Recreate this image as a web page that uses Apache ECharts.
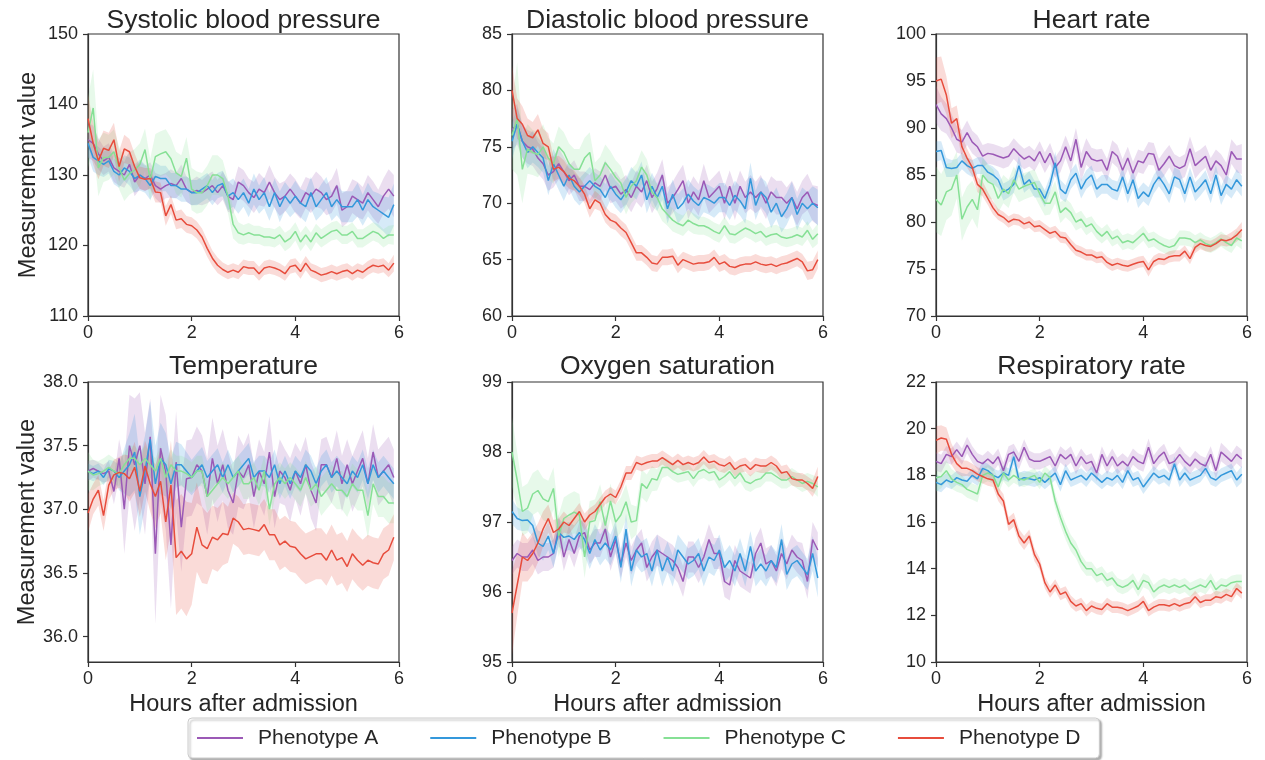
<!DOCTYPE html>
<html><head><meta charset="utf-8">
<script src="https://cdn.jsdelivr.net/npm/echarts@6/dist/echarts.min.js"></script>
<style>html,body{margin:0;padding:0;background:#fff}#c{width:1265px;height:760px}</style>
</head><body><div id="c"></div>
<script>
const hours = [0,0.1,0.2,0.3,0.4,0.5,0.6,0.7,0.8,0.9,1,1.1,1.2,1.3,1.4,1.5,1.6,1.7,1.8,1.9,2,2.1,2.2,2.3,2.4,2.5,2.6,2.7,2.8,2.9,3,3.1,3.2,3.3,3.4,3.5,3.6,3.7,3.8,3.9,4,4.1,4.2,4.3,4.4,4.5,4.6,4.7,4.8,4.9,5,5.1,5.2,5.3,5.4,5.5,5.6,5.7,5.8,5.9];
const phenotypes = ['Phenotype A','Phenotype B','Phenotype C','Phenotype D'];
const colors = ['#9b59b6','#3498db','#86e095','#e74c3c'];
const titles = ['Systolic blood pressure','Diastolic blood pressure','Heart rate','Temperature','Oxygen saturation','Respiratory rate'];
const xTicks = [0,2,4,6];
const sbpTicks = [110,120,130,140,150];
const dbpTicks = [60,65,70,75,80,85];
const hrTicks = [70,75,80,85,90,95,100];
const tempTicks = [36.0,36.5,37.0,37.5,38.0];
const o2Ticks = [95,96,97,98,99];
const rrTicks = [10,12,14,16,18,20,22];

// Systolic blood pressure
const sbpA = [135,134.5,133,132,132.5,131,130.5,130,131.5,129, 130,129.5,130,128.5,128,128.5,128.8,128.5,129.5,128, 127.5,127.8,127.5,128,128.5,127.5,128.5,127,126.5,129, 128.5,127.5,126.8,128,127.5,129,127.5,126.5,127,128, 127,126,127.5,127,128,127.5,126.5,127,128.5,125, 125.5,127,126.5,126,127.5,126.5,125.5,127,128,127];
const sbpB = [134.5,132.5,132,131.5,132,130.5,130,131,130.5,129.5, 130,129.5,128.5,129.8,129.5,129.5,128.5,128.5,128,128, 127.5,127.5,128,128.5,127.5,128.5,128.8,127,127.5,126.5, 127.5,126,128,126.5,127.5,125.5,127.5,125.5,127,126, 127,126,125.5,127.5,125.5,126.5,127.5,125.5,126.5,125.5, 125.5,125.5,126.5,125,126.5,125.5,125,124.5,124,125.8];
const sbpC = [136,139.5,131,132.5,132.5,133.3,131,129.3,130.2,130.7, 131.5,133.6,129.3,132.6,133,133.3,132.3,130.3,129.8,132.4, 128,127.5,127.5,128.5,130,130,129.5,127,123,121.8, 121.5,121.8,121.5,121.5,121.2,121.2,121,121.5,120.5,121, 122,120.5,121.5,120.5,121.8,121,121.5,122,122.2,121.5, 121.5,122,121,121,121.5,122,121.7,121,121.5,121.5];
const sbpD = [138,134.5,132,133.8,133.5,135,131.2,133.7,133.3,131.2, 129.6,129.4,129.5,127.6,127.5,124.2,125.8,123.6,123.8,123, 122.8,122.2,121.2,119.6,118.2,117.2,116.6,116.2,116.5,116.2, 117,116.8,116.8,116,116.8,117,116.8,116.5,116,117, 117.2,116.3,117.5,116.5,116.2,115.8,116,116.3,116,116.3, 116.5,116,116.5,116.2,116.8,117.2,117,117.2,116.5,117.5];
const sbpBandA = [2.5,2.5,2.2,2,2,2,2,1.8,2,2, 2,1.8,1.8,1.8,2,1.8,2,1.8,2,1.8, 1.8,2,1.8,2,2,1.8,2,2.2,2,2.2, 2.2,2,2.2,2.3,2,2.4,2.2,2.3,2.2,2.2, 2.4,2.2,2.2,2.4,2.5,2.3,2.2,2.4,2.5,2.4, 2.3,2.4,2.5,2.3,2.5,2.6,2.4,2.5,2.8,3];
const sbpBandB = [1.8,2,2,1.8,1.8,1.8,1.8,1.8,2,2, 2.2,2,2,2,1.8,1.8,1.8,1.8,1.8,1.8, 1.8,1.8,1.8,1.8,1.8,1.8,1.8,2,2,2, 2,2,2.2,2,2.2,2,2,2.2,2,2, 2.2,2,2.2,2.2,2,2.2,2.2,2,2.2,2.2, 2.2,2.2,2.4,2.2,2.4,2.2,2.4,2.5,2.8,3];
const sbpBandC = [5,5.5,4,3.5,3.2,3.2,3,3,3,3, 3,3,3,3.2,3.2,3.2,3,3,3,3, 3,3,2.8,2.8,2.8,2.8,2.6,2.4,2,1.5, 1.4,1.4,1.3,1.3,1.3,1.3,1.3,1.3,1.3,1.3, 1.3,1.3,1.3,1.3,1.3,1.3,1.3,1.3,1.3,1.3, 1.3,1.3,1.3,1.3,1.3,1.3,1.3,1.3,1.3,1.4];
const sbpBandD = [3.5,3,2.6,2.5,2.5,2.4,2.2,2,1.8,1.8, 1.6,1.6,1.5,1.5,1.4,1.4,1.3,1.3,1.3,1.2, 1.2,1.2,1.2,1.2,1.1,1.1,1,1,1,1, 1,1,1,1,1,1,1,1,1,1, 1,1,1,1,1,1,1,1,1,1, 1,1,1,1,1,1,1,1,1,1.2];

// Diastolic blood pressure
const dbpA = [76.5,77,75.5,75,74.8,74,73.5,72.5,72.8,73.5, 72.8,72,72.5,71.5,71.5,71.2,71.8,71.5,72.5,71.3, 71.5,70.8,71.2,70.5,71.5,71,72,70.5,71.3,72.5, 70,70.5,71.2,72,70,71,70.3,72,70.5,71, 71.5,70,71.5,70,71.5,70.5,71,70.5,71,70, 71,70.5,70.5,70,70.5,69.5,70.5,71,70,69.8];
const dbpB = [75.5,77,75.5,74.5,75,74.5,74,72,73.5,72.5, 71.5,72.5,71.5,71,71.5,72,71.5,71.2,70.5,71.5, 70.8,70.3,71,72,71.5,72.5,70.3,71.5,70.5,71.5, 69.5,70.8,69.5,70,70.8,70.2,69.8,70.5,70.3,70, 70.5,70.5,69.8,70.7,70.2,69.5,72.2,69.8,71,70.5, 69.2,70,68.8,69.5,70.5,69,70,69.5,70,69.6];
const dbpC = [76,77.5,73,74.8,74.5,74.3,75,74,73.5,75, 74.5,73.5,73,73,74,74.5,72,72.5,73.6,73, 72.3,71.8,70.5,71.5,72,73.2,72.5,71,70.5,69.5, 69,68.5,68.2,68,68.5,68.2,68,68,67.8,67.5, 67.3,68,67.3,67.2,67.5,67.8,67.6,67.3,67.5,67, 67.2,67.3,67,66.9,67,67.2,67,67.6,66.8,67.3];
const dbpD = [80,77.5,77,76,75.8,76.5,75.3,75,73,73.2, 72.8,72.2,72,71.5,70.8,69.5,70.3,70,69,68.5, 68.3,67.8,67.4,66.5,65.6,65.6,65.2,64.7,64.6,65.2, 65.2,65.3,64.5,65,64.8,64.6,64.7,64.7,64.8,65.2, 64.6,64.8,64.4,64.3,64.5,64.6,64.6,64.8,64.6,64.5, 64.6,64.4,64.6,64.7,64.9,65.1,64.8,64,64.1,65];
const dbpBandA = [1.8,1.8,1.5,1.5,1.5,1.4,1.4,1.4,1.4,1.4, 1.3,1.3,1.3,1.3,1.3,1.3,1.3,1.3,1.3,1.3, 1.3,1.3,1.3,1.3,1.4,1.4,1.4,1.4,1.4,1.4, 1.4,1.4,1.5,1.4,1.4,1.4,1.4,1.5,1.4,1.4, 1.4,1.5,1.4,1.5,1.4,1.4,1.5,1.4,1.5,1.4, 1.4,1.5,1.5,1.4,1.5,1.5,1.5,1.6,1.6,1.7];
const dbpBandB = [1.6,1.5,1.4,1.4,1.4,1.3,1.3,1.3,1.3,1.3, 1.3,1.2,1.2,1.2,1.2,1.2,1.2,1.2,1.2,1.2, 1.2,1.2,1.2,1.2,1.2,1.2,1.2,1.2,1.2,1.2, 1.3,1.3,1.3,1.3,1.3,1.3,1.3,1.3,1.3,1.3, 1.3,1.3,1.3,1.3,1.3,1.3,1.4,1.3,1.3,1.4, 1.4,1.4,1.4,1.4,1.4,1.4,1.4,1.5,1.5,1.6];
const dbpBandC = [3,5,3,2.2,2,2,2,1.8,1.8,1.8, 1.8,1.8,1.8,1.8,1.8,1.8,1.6,1.6,1.6,1.6, 1.5,1.5,1.5,1.5,1.5,1.5,1.4,1.3,1.2,1.1, 1,1,0.9,0.9,0.9,0.9,0.8,0.8,0.8,0.8, 0.8,0.8,0.8,0.8,0.8,0.8,0.8,0.8,0.8,0.8, 0.8,0.8,0.8,0.8,0.8,0.8,0.8,0.8,0.8,0.9];
const dbpBandD = [2.2,1.8,1.6,1.5,1.4,1.4,1.3,1.2,1.1,1, 1,0.9,0.9,0.8,0.8,0.8,0.8,0.7,0.7,0.7, 0.7,0.7,0.7,0.7,0.7,0.7,0.7,0.7,0.7,0.7, 0.7,0.7,0.7,0.7,0.7,0.7,0.7,0.7,0.7,0.7, 0.7,0.7,0.7,0.7,0.7,0.7,0.7,0.7,0.7,0.7, 0.7,0.7,0.7,0.7,0.7,0.7,0.7,0.8,0.8,0.8];

// Heart rate
const hrA = [92.5,91.5,91,90,88.8,88.5,89.5,88.5,88,87, 87.3,87.2,87,86.8,87,87.8,87.2,86.7,87,86.5, 87.5,86.3,87.3,85.8,86.5,88,86.5,88.8,85.8,87.5, 86.7,86.5,86.6,85.5,87.5,87,85.5,86.8,85.2,86.5, 86.3,87.3,87.2,85.5,86.2,87,86,85.7,86,87.8, 86,86.5,87,85.5,86.5,86,85,87.5,86.7,86.7];
const hrB = [87.5,87.6,85.8,85.7,85.8,86.5,86,85.7,86,86, 85.3,85,84.5,83.2,83.5,84,86,84,84.5,83.5, 83.5,82.5,84,86.3,83.5,83,84.5,85.2,83.5,84.5, 85,83.5,84,84,83.5,83.3,84.8,83,84.5,82.5, 83.2,82.7,84,84.8,84,83,84.8,84.5,83,84.8, 83.2,83.8,84.5,83,85,82.8,84,83.5,84.5,83.8];
const hrC = [82.4,81.8,83.2,83.5,85,80.3,81.6,82.4,81.3,85, 84.3,84,82.5,83.5,83,84.5,83.5,83.8,84,84.2, 83,82,82,83.2,81,81.5,81,80,80.3,79.5, 79.8,79,78.5,79,78.2,78.5,77.8,78,77.8,78.3, 78.8,78,78.2,77.8,77.5,77.3,77.5,78.3,78.3,78.2, 77.8,78.1,77.7,77.5,77.8,78.2,77.8,77.5,78.3,78];
const hrD = [95,95.2,93.5,90.5,91,88,86.8,85.8,84,83.5, 82.5,81.5,80.8,80.5,80,80.3,80.2,79.8,80,79.5, 79.6,79.2,78.8,79,78.4,78.3,77.6,77,76.8,76.5, 76.5,76.2,76.3,75.7,75.4,75.6,75.4,75.3,75.5,75.7, 75.8,74.9,75.8,76.1,76,76.3,76.4,76.4,76.9,76.1, 77.3,77.7,77.5,77.4,77.7,78.1,78,78.2,78.6,79.2];
const hrBandA = [2,1.8,1.6,1.5,1.4,1.3,1.3,1.2,1.2,1.2, 1.1,1.1,1.1,1.1,1.1,1.1,1.1,1.1,1.1,1.1, 1.1,1.1,1.1,1.1,1.2,1.2,1.3,1.2,1.5,1.4, 1.2,1.2,1.2,1.2,1.2,1.2,1.2,1.2,1.2,1.2, 1.2,1.2,1.2,1.2,1.3,1.2,1.2,1.2,1.2,1.3, 1.4,1.2,1.2,1.3,1.2,1.2,1.3,1.3,1.4,1.6];
const hrBandB = [1.1,1,1,0.9,0.9,0.9,0.9,0.9,0.9,0.9, 0.9,0.9,0.9,0.9,0.9,0.9,1,0.9,0.9,0.9, 0.9,0.9,0.9,1.2,1,0.9,1,1,1,1, 1,1,1,1,1,1,1,1,1,1, 1,1,1,1,1,1,1,1,1,1, 1,1,1,1,1,1,1,1,1.1,1.1];
const hrBandC = [3.5,3.3,3,2.8,2.5,2.3,2.2,2,2,1.8, 1.8,1.6,1.5,1.5,1.5,1.4,1.4,1.4,1.4,1.4, 1.3,1.3,1.2,1.2,1.1,1,1,0.9,0.9,0.9, 0.8,0.8,0.8,0.8,0.8,0.8,0.8,0.8,0.8,0.8, 0.8,0.8,0.8,0.8,0.8,0.8,0.8,0.8,0.8,0.8, 0.8,0.8,0.8,0.8,0.8,0.8,0.8,0.8,0.8,0.9];
const hrBandD = [2.5,2.4,2,1.6,1.4,1.2,1,0.9,0.8,0.8, 0.7,0.7,0.6,0.6,0.6,0.6,0.6,0.6,0.6,0.6, 0.6,0.6,0.6,0.6,0.6,0.6,0.6,0.6,0.6,0.6, 0.6,0.6,0.6,0.6,0.6,0.6,0.6,0.6,0.6,0.6, 0.6,0.7,0.6,0.6,0.6,0.6,0.6,0.6,0.6,0.6, 0.6,0.6,0.6,0.6,0.6,0.6,0.6,0.7,0.7,0.8];

// Temperature
const tempA = [37.3,37.32,37.3,37.28,37.3,37.14,37.4,37,37.5,37.35, 37.5,37.2,37.57,36.65,37.48,37.29,36.72,37.37,36.86,37.24, 37.25,37.35,37.3,37.1,37.4,37.2,37.35,37.15,37.05,37.3, 37.25,37.35,37.1,37.3,37.2,37.45,37.1,37.3,37.25,37.15, 37.3,37.2,37.35,37.15,37.05,37.35,37.35,37.25,37.4,37.2, 37.35,37.2,37.3,37.4,37.2,37.45,37.25,37.3,37.35,37.25];
const tempB = [37.3,37.28,37.3,37.25,37.32,37.3,37.25,37.3,37.35,37.45, 37.1,37.3,37.55,37.2,37.4,37.35,37.2,37.35,37.35,37.3, 37.25,37.3,37.35,37.25,37.3,37.35,37.25,37.35,37.25,37.3, 37.35,37.4,37.25,37.3,37.3,37.25,37.35,37.2,37.3,37.2, 37.3,37.25,37.35,37.3,37.2,37.3,37.35,37.25,37.3,37.25, 37.2,37.3,37.25,37.35,37.2,37.35,37.25,37.3,37.25,37.2];
const tempC = [37.3,37.27,37.28,37.3,37.33,37.3,37.28,37.35,37.4,37.4, 37.35,37.4,37.35,37.3,37.4,37.25,37.35,37.3,37.3,37.28, 37.25,37.3,37.3,37.1,37.15,37.2,37.25,37.2,37.25,37.3, 37.2,37.2,37.25,37.15,37.3,37,37.2,37.25,37.2,37.25, 37.2,37.15,37.25,37.15,37.2,37.1,37.15,37.2,37.15,37.15, 37.1,37.2,37.15,37.15,36.95,37.2,37.1,37.1,37.05,37.05];
const tempD = [36.97,37.08,37.15,36.95,37.19,37.27,37.29,37.28,37.24,37.33, 37.14,37.34,37.2,37.1,37.22,36.9,37.19,36.62,36.67,36.61, 36.65,36.86,36.72,36.69,36.78,36.76,36.81,36.8,36.93,36.9, 36.84,36.85,36.84,36.83,36.88,36.8,36.8,36.72,36.75,36.71, 36.7,36.65,36.61,36.63,36.65,36.65,36.6,36.68,36.6,36.62, 36.55,36.65,36.6,36.56,36.6,36.58,36.57,36.65,36.68,36.78];
const tempBandA = [0.08,0.07,0.07,0.07,0.08,0.1,0.15,0.35,0.4,0.52, 0.42,0.4,0.3,0.55,0.42,0.45,0.5,0.4,0.35,0.3, 0.3,0.3,0.28,0.3,0.32,0.3,0.28,0.3,0.25,0.28, 0.25,0.25,0.25,0.25,0.25,0.28,0.25,0.25,0.22,0.25, 0.22,0.25,0.22,0.22,0.22,0.2,0.22,0.2,0.22,0.22, 0.2,0.22,0.22,0.22,0.2,0.22,0.22,0.22,0.22,0.22];
const tempBandB = [0.06,0.06,0.06,0.06,0.07,0.08,0.1,0.18,0.25,0.3, 0.3,0.28,0.3,0.3,0.28,0.25,0.2,0.18,0.16,0.15, 0.14,0.14,0.14,0.13,0.13,0.13,0.12,0.12,0.12,0.12, 0.12,0.12,0.12,0.12,0.12,0.12,0.12,0.12,0.12,0.12, 0.12,0.12,0.12,0.12,0.12,0.12,0.12,0.12,0.12,0.12, 0.12,0.12,0.12,0.12,0.12,0.12,0.12,0.12,0.12,0.12];
const tempBandC = [0.15,0.12,0.1,0.1,0.1,0.1,0.1,0.1,0.1,0.1, 0.1,0.1,0.1,0.1,0.1,0.12,0.12,0.12,0.12,0.12, 0.12,0.12,0.12,0.12,0.12,0.12,0.12,0.12,0.12,0.12, 0.12,0.12,0.12,0.12,0.12,0.13,0.12,0.12,0.12,0.12, 0.13,0.13,0.13,0.13,0.14,0.15,0.15,0.15,0.15,0.15, 0.16,0.16,0.16,0.16,0.18,0.16,0.16,0.16,0.16,0.16];
const tempBandD = [0.15,0.12,0.12,0.12,0.12,0.12,0.12,0.15,0.18,0.2, 0.2,0.2,0.22,0.25,0.25,0.3,0.35,0.45,0.45,0.45, 0.4,0.35,0.3,0.28,0.25,0.25,0.25,0.22,0.2,0.2, 0.2,0.2,0.2,0.2,0.2,0.2,0.2,0.2,0.2,0.2, 0.2,0.2,0.2,0.2,0.2,0.2,0.2,0.2,0.2,0.2, 0.2,0.2,0.2,0.2,0.2,0.2,0.2,0.2,0.2,0.18];

// Oxygen saturation
const o2A = [96.45,96.55,96.5,96.5,96.6,96.45,96.5,96.5,96.55,96.9, 96.5,96.75,96.55,96.8,96.85,96.6,96.7,96.7,96.9,96.5, 96.75,96.4,96.7,96.45,96.6,96.7,96.35,96.5,96.6,96.55, 96.5,96.45,96.35,96.15,96.5,96.5,96.35,96.5,96.75,96.55, 96.55,96.15,96.1,96.45,96.3,96.25,96.2,96.55,96.7,96.4, 96.45,96.3,96.55,96.4,96.6,96.5,96.45,96.15,96.75,96.6];
const o2B = [97.15,97.05,97.02,97.03,96.95,96.7,96.65,96.8,96.55,96.85, 96.78,96.8,96.75,96.85,96.75,96.55,96.75,96.6,96.7,96.6, 96.8,96.35,96.9,96.3,96.6,96.5,96.55,96.3,96.6,96.3, 96.5,96.3,96.6,96.5,96.4,96.45,96.55,96.3,96.5,96.45, 96.6,96.35,96.45,96.3,96.55,96.3,96.65,96.3,96.4,96.3, 96.45,96.35,96.75,96.25,96.4,96.45,96.35,96.25,96.55,96.2];
const o2C = [98,97.6,97.15,97.2,97.4,97.45,97.33,97.29,97.48,96.8, 97.05,97.1,97.14,97.1,96.5,97,97.02,97.29,96.95,97.3, 97,97.1,97.29,97,97.02,97.55,97.48,97.62,97.6,97.78, 97.78,97.72,97.68,97.7,97.72,97.62,97.72,97.75,97.7,97.72, 97.6,97.65,97.72,97.62,97.7,97.58,97.55,97.6,97.62,97.7, 97.7,97.65,97.6,97.6,97.65,97.6,97.55,97.58,97.55,97.5];
const o2D = [95.7,96.1,96.5,96.45,96.55,96.7,96.9,97.05,96.85,96.9, 97,96.95,97.05,97.15,97,97.1,97.15,97.25,97.35,97.4, 97.35,97.5,97.7,97.7,97.85,97.82,97.85,97.87,97.87,97.92, 97.87,97.82,97.88,97.82,97.85,97.82,97.85,97.93,97.85,97.87, 97.82,97.8,97.85,97.75,97.8,97.82,97.75,97.82,97.8,97.8, 97.85,97.8,97.7,97.72,97.62,97.6,97.6,97.55,97.48,97.65];
const o2BandA = [0.2,0.2,0.2,0.2,0.2,0.2,0.2,0.2,0.2,0.2, 0.2,0.2,0.2,0.2,0.2,0.2,0.2,0.2,0.2,0.2, 0.2,0.2,0.2,0.2,0.2,0.2,0.2,0.22,0.22,0.22, 0.22,0.22,0.22,0.22,0.22,0.22,0.22,0.22,0.22,0.22, 0.22,0.22,0.22,0.22,0.22,0.22,0.22,0.22,0.22,0.22, 0.22,0.22,0.22,0.22,0.22,0.22,0.25,0.25,0.25,0.25];
const o2BandB = [0.18,0.16,0.15,0.15,0.16,0.18,0.2,0.2,0.2,0.2, 0.2,0.2,0.2,0.2,0.22,0.22,0.22,0.22,0.22,0.22, 0.22,0.22,0.22,0.22,0.22,0.22,0.22,0.22,0.22,0.22, 0.22,0.22,0.22,0.22,0.22,0.22,0.22,0.22,0.22,0.22, 0.22,0.22,0.22,0.22,0.22,0.22,0.22,0.22,0.22,0.22, 0.22,0.22,0.22,0.22,0.22,0.22,0.22,0.22,0.25,0.28];
const o2BandC = [0.5,0.4,0.35,0.35,0.3,0.3,0.3,0.3,0.3,0.3, 0.3,0.3,0.3,0.3,0.3,0.3,0.3,0.25,0.25,0.25, 0.25,0.25,0.25,0.25,0.2,0.2,0.2,0.18,0.15,0.15, 0.12,0.12,0.12,0.12,0.12,0.12,0.12,0.12,0.12,0.12, 0.12,0.12,0.12,0.12,0.12,0.12,0.12,0.12,0.12,0.12, 0.12,0.12,0.12,0.12,0.12,0.12,0.12,0.12,0.12,0.14];
const o2BandD = [0.6,0.45,0.35,0.3,0.3,0.28,0.25,0.2,0.18,0.15, 0.15,0.12,0.12,0.12,0.12,0.1,0.1,0.1,0.1,0.1, 0.1,0.1,0.1,0.1,0.1,0.1,0.1,0.1,0.1,0.1, 0.1,0.1,0.1,0.1,0.1,0.1,0.1,0.1,0.1,0.1, 0.1,0.1,0.1,0.1,0.1,0.1,0.1,0.1,0.1,0.1, 0.1,0.1,0.1,0.1,0.1,0.1,0.1,0.1,0.12,0.14];

// Respiratory rate
const rrA = [18.6,18.5,18.9,18.8,19.1,18.8,19.3,18.9,18.6,18.5, 18.7,18.5,18.8,18.2,18.9,19,18.6,19.2,18.7,18.6, 18.6,18.7,18.8,18.4,18.9,18.7,18.9,18.4,18.8,18.5, 18.6,18.1,18.9,18.4,18.8,18.4,18.6,18.4,18.8,18.6, 18.5,19.2,18.5,18.8,19,18.5,18.6,18.9,18.6,18.4, 18.7,18.5,18.4,18.9,18.2,19,18.8,18.6,18.9,18.7];
const rrB = [17.7,17.6,17.8,17.7,17.9,17.8,17.75,18,17.85,18.3, 18.2,18,17.9,18.1,18,18.8,17.8,17.9,17.85,17.8, 17.9,17.7,17.9,18.1,17.6,18.2,17.8,17.9,18,17.8, 18.1,17.9,17.7,17.9,17.8,18,17.7,18.2,17.8,17.9, 17.5,17.8,18.1,17.9,18,17.8,18.5,17.8,18.1,17.8, 17.9,18,18.3,17.9,17.8,18,18.1,18.2,17.8,18.05];
const rrC = [17.9,17.95,18.2,17.85,17.7,17.6,17.4,17.3,17.2,18, 18.1,18,17.5,18.1,17.8,18,17.85,17.8,17.9,18, 17.7,18.1,17.9,16.9,16.2,15.6,15.1,14.8,14.3,14, 14,13.7,13.8,13.5,13.6,13.3,13.2,13.3,13.5,13.1, 13.5,13.4,13,13.2,13.3,13.2,13.3,13.2,13.3,13.1, 13.2,13.3,13.2,13.5,13.1,13.3,13.25,13.4,13.45,13.45];
const rrD = [19.5,19.6,19.55,18.9,18.5,18.3,18.3,18.2,18.05,17.95, 17.85,17.8,17.2,16.9,15.9,16.1,15.4,15.1,15.4,14.6, 14.2,13.4,13,13.3,12.9,13,12.6,12.4,12.5,12.2, 12.4,12.3,12.25,12.5,12.35,12.35,12.3,12.2,12.3,12.4, 12.6,12.2,12.35,12.45,12.45,12.4,12.5,12.4,12.5,12.55, 12.8,12.55,12.65,12.65,12.8,12.75,12.9,12.8,13.15,12.95];
const rrBandA = [0.4,0.38,0.36,0.35,0.35,0.35,0.35,0.35,0.35,0.35, 0.35,0.35,0.35,0.35,0.35,0.35,0.35,0.35,0.35,0.35, 0.35,0.35,0.35,0.35,0.35,0.35,0.35,0.35,0.35,0.35, 0.35,0.35,0.35,0.35,0.35,0.35,0.35,0.35,0.35,0.35, 0.35,0.38,0.35,0.35,0.35,0.35,0.35,0.35,0.35,0.35, 0.35,0.35,0.35,0.35,0.35,0.4,0.38,0.35,0.38,0.4];
const rrBandB = [0.35,0.32,0.3,0.3,0.3,0.3,0.3,0.3,0.3,0.3, 0.3,0.3,0.3,0.3,0.3,0.35,0.3,0.3,0.3,0.3, 0.3,0.3,0.3,0.3,0.3,0.3,0.3,0.3,0.3,0.3, 0.3,0.3,0.3,0.3,0.3,0.3,0.3,0.3,0.3,0.3, 0.3,0.3,0.3,0.3,0.3,0.3,0.32,0.3,0.3,0.3, 0.3,0.3,0.3,0.3,0.3,0.3,0.3,0.3,0.32,0.35];
const rrBandC = [0.6,0.5,0.45,0.42,0.4,0.38,0.36,0.35,0.35,0.35, 0.35,0.35,0.35,0.35,0.32,0.32,0.3,0.3,0.3,0.3, 0.3,0.3,0.3,0.32,0.35,0.35,0.35,0.35,0.32,0.3, 0.3,0.3,0.3,0.3,0.3,0.3,0.3,0.3,0.3,0.3, 0.3,0.3,0.3,0.3,0.3,0.3,0.3,0.3,0.3,0.3, 0.3,0.3,0.3,0.3,0.3,0.3,0.3,0.3,0.3,0.3];
const rrBandD = [0.6,0.55,0.5,0.45,0.4,0.35,0.32,0.3,0.3,0.3, 0.3,0.3,0.3,0.3,0.3,0.3,0.3,0.3,0.28,0.28, 0.25,0.25,0.25,0.25,0.25,0.25,0.25,0.25,0.25,0.25, 0.25,0.25,0.25,0.25,0.25,0.25,0.25,0.25,0.25,0.25, 0.25,0.25,0.25,0.25,0.25,0.25,0.25,0.25,0.25,0.25, 0.25,0.25,0.25,0.25,0.25,0.25,0.25,0.25,0.25,0.25];

const panels = [
  {min:110, max:150, interval:10, ticks:sbpTicks, dec:0, lines:[sbpA,sbpB,sbpC,sbpD], bands:[sbpBandA,sbpBandB,sbpBandC,sbpBandD]},
  {min:60, max:85, interval:5, ticks:dbpTicks, dec:0, lines:[dbpA,dbpB,dbpC,dbpD], bands:[dbpBandA,dbpBandB,dbpBandC,dbpBandD]},
  {min:70, max:100, interval:5, ticks:hrTicks, dec:0, lines:[hrA,hrB,hrC,hrD], bands:[hrBandA,hrBandB,hrBandC,hrBandD]},
  {min:35.8, max:38.0, interval:null, ticks:tempTicks, dec:1, lines:[tempA,tempB,tempC,tempD], bands:[tempBandA,tempBandB,tempBandC,tempBandD]},
  {min:95, max:99, interval:1, ticks:o2Ticks, dec:0, lines:[o2A,o2B,o2C,o2D], bands:[o2BandA,o2BandB,o2BandC,o2BandD]},
  {min:10, max:22, interval:2, ticks:rrTicks, dec:0, lines:[rrA,rrB,rrC,rrD], bands:[rrBandA,rrBandB,rrBandC,rrBandD]}
];

const FONT = "'Liberation Sans', Arial, sans-serif";
const TXT = '#262626';
const SPINE = '#333';
const gridLefts = [88, 512, 936];
const gridTops = [34, 382];
const gridHeights = [282, 280];
const gridW = 311;
const titleY = [21, 367];

const grids = [], xAxes = [], yAxes = [], series = [], graphics = [];
panels.forEach((p, k) => {
  const col = k % 3, row = Math.floor(k / 3);
  grids.push({left: gridLefts[col], top: gridTops[row], width: gridW, height: gridHeights[row],
    show: true, borderColor: SPINE, borderWidth: 1.2, backgroundColor: 'transparent'});
  xAxes.push({type: 'value', gridIndex: k, min: 0, max: 6, interval: 2,
    axisLine: {show: true, lineStyle: {color: SPINE, width: 1.2}},
    axisTick: {show: true, length: 5, customValues: xTicks, lineStyle: {color: SPINE, width: 1.2}},
    axisLabel: {fontSize: 18, color: TXT, fontFamily: FONT, margin: 8, customValues: xTicks},
    splitLine: {show: false},
    name: row === 1 ? 'Hours after admission' : '', nameLocation: 'middle', nameGap: 31,
    nameTextStyle: {fontSize: 23.5, color: TXT, fontFamily: FONT}});
  const ya = {type: 'value', gridIndex: k, min: p.min, max: p.max,
    axisLine: {show: true, lineStyle: {color: SPINE, width: 1.2}},
    axisTick: {show: true, length: 5, customValues: p.ticks, lineStyle: {color: SPINE, width: 1.2}},
    axisLabel: {fontSize: 18, color: TXT, fontFamily: FONT, margin: 10, customValues: p.ticks,
      formatter: v => Number(v).toFixed(p.dec)},
    splitLine: {show: false},
    name: col === 0 ? 'Measurement value' : '', nameLocation: 'middle', nameGap: 47,
    nameTextStyle: {fontSize: 23.5, color: TXT, fontFamily: FONT}};
  if (p.interval) ya.interval = p.interval;
  yAxes.push(ya);
  graphics.push({type: 'text', x: gridLefts[col] + gridW / 2, y: titleY[row],
    style: {text: titles[k], fontSize: 26.5, fontFamily: FONT, fill: TXT, align: 'center', verticalAlign: 'middle'}});
  p.lines.forEach((vals, j) => {
    const hw = p.bands[j];
    series.push({type: 'custom', name: 'band', xAxisIndex: k, yAxisIndex: k, silent: true, z: 1,
      animation: false, clip: true,
      data: hours.map((h, i) => [h, vals[i] - hw[i], vals[i] + hw[i]]),
      encode: {x: 0, y: [1, 2]},
      renderItem: (params, api) => {
        if (params.dataIndex !== 0) return null;
        const up = [], lo = [];
        for (let i = 0; i < hours.length; i++) {
          up.push(api.coord([hours[i], vals[i] + hw[i]]));
          lo.push(api.coord([hours[i], vals[i] - hw[i]]));
        }
        return {type: 'polygon', shape: {points: up.concat(lo.reverse())},
          style: {fill: colors[j], opacity: 0.2}};
      }});
  });
  p.lines.forEach((vals, j) => {
    series.push({type: 'line', name: phenotypes[j], xAxisIndex: k, yAxisIndex: k, z: 3 + j,
      data: hours.map((h, i) => [h, vals[i]]), showSymbol: false, symbol: 'none',
      animation: false, lineStyle: {width: 1.5, color: colors[j]}, itemStyle: {color: colors[j]}});
  });
});

const chart = echarts.init(document.getElementById('c'), null, {renderer: 'canvas'});
chart.setOption({
  backgroundColor: '#fff',
  animation: false,
  grid: grids, xAxis: xAxes, yAxis: yAxes, series: series,
  graphic: graphics,
  legend: {data: phenotypes, left: 188, top: 718, icon: 'rect', itemWidth: 46, itemHeight: 2, itemGap: 52,
    padding: [9.5, 19, 9.5, 9], borderColor: '#cccccc', borderWidth: 1, borderRadius: 4, backgroundColor: '#fff',
    shadowColor: 'rgba(0,0,0,0.3)', shadowBlur: 2, shadowOffsetX: 2, shadowOffsetY: 2,
    textStyle: {fontSize: 21, color: TXT, fontFamily: FONT, padding: [0, 0, 0, 10], width: 125}}
});
</script></body></html>
